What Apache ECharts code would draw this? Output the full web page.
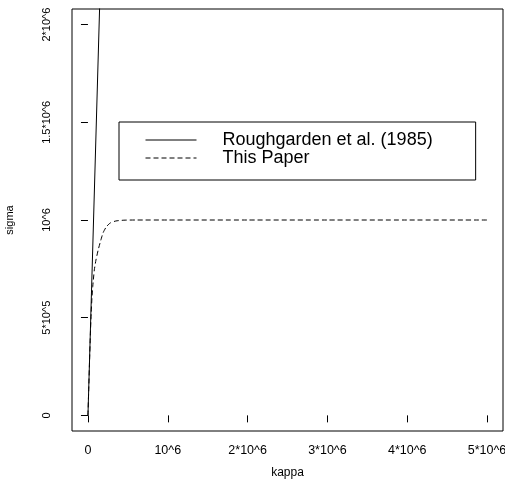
<!DOCTYPE html>
<html>
<head>
<meta charset="utf-8">
<script src="https://cdn.jsdelivr.net/npm/echarts@6/dist/echarts.min.js"></script>
<style>html,body{margin:0;padding:0;background:#fff}#c{width:505px;height:479px}</style>
</head>
<body>
<div id="c"></div>
<script>
// Data
var xTickValues = [0, 1e6, 2e6, 3e6, 4e6, 5e6];
var xTickLabels = ['0', '10^6', '2*10^6', '3*10^6', '4*10^6', '5*10^6'];
var yTickValues = [0, 5e5, 1e6, 1.5e6, 2e6];
var yTickLabels = ['0', '5*10^5', '10^6', '1.5*10^6', '2*10^6'];

// Roughgarden et al. (1985): straight line through origin (clipped at top)
var kappaRough = [0, 2e5];
var sigmaRough = [0, 2.86e6];

// This Paper: saturating curve to 10^6
var kappaPaper = [0, 1e4, 2e4, 3e4, 4e4, 5e4, 6e4, 8e4, 1e5, 1.3e5, 1.6e5, 1.9e5, 2.3e5, 2.8e5, 3.5e5, 4.5e5, 6e5, 1e6, 2e6, 3e6, 4e6, 5e6];
var sigmaPaper = [0, 1.4e5, 2.8e5, 4.1e5, 5.2e5, 6.0e5, 6.6e5, 7.45e5, 7.95e5, 8.5e5, 8.95e5, 9.35e5, 9.65e5, 9.85e5, 9.95e5, 9.99e5, 1e6, 1e6, 1e6, 1e6, 1e6, 1e6];

var roughName = 'Roughgarden et al. (1985)';
var paperName = 'This Paper';

function pairs(xs, ys) { return xs.map(function (x, i) { return [x, ys[i]]; }); }
function lookup(vals, labels) {
  return function (v) {
    for (var i = 0; i < vals.length; i++) if (Math.abs(vals[i] - v) < 1) return labels[i];
    return '';
  };
}

var chart = echarts.init(document.getElementById('c'), null, { renderer: 'canvas' });
var font = 'Liberation Sans, Arial, Helvetica, sans-serif';
chart.setOption({
  animation: false,
  backgroundColor: '#fff',
  grid: {
    left: 72, right: 2, top: 9, bottom: 48,
    outerBoundsMode: 'none', containLabel: false,
    show: true, borderColor: '#000', borderWidth: 1, backgroundColor: 'transparent'
  },
  xAxis: {
    type: 'value', min: -2e5, max: 5.2e6,
    name: 'kappa', nameLocation: 'middle', nameGap: 36,
    nameTextStyle: { fontFamily: font, fontSize: 12, color: '#000' },
    axisLine: { show: false },
    axisTick: { show: true, inside: false, length: 7, customValues: xTickValues, lineStyle: { color: '#000' } },
    axisLabel: { customValues: xTickValues, formatter: lookup(xTickValues, xTickLabels), margin: 13,
      fontFamily: font, fontSize: 12.5, color: '#000' },
    splitLine: { show: false }
  },
  yAxis: {
    type: 'value', min: -8e4, max: 2.08e6,
    name: 'sigma', nameLocation: 'middle', nameGap: 57, nameRotate: 90,
    nameTextStyle: { fontFamily: font, fontSize: 11, color: '#000' },
    axisLine: { show: false },
    axisTick: { show: true, inside: false, length: 7, customValues: yTickValues, lineStyle: { color: '#000' } },
    axisLabel: { customValues: yTickValues, formatter: lookup(yTickValues, yTickLabels), rotate: 90, margin: 25,
      fontFamily: font, fontSize: 11, color: '#000', align: 'center', verticalAlign: 'middle' },
    splitLine: { show: false }
  },
  legend: {
    show: true,
    orient: 'vertical', left: 119, top: 122,
    padding: [9, 43, 13, 26],
    itemWidth: 51, itemHeight: 14, itemGap: 0,
    borderColor: '#000', borderWidth: 1, borderRadius: 0,
    backgroundColor: '#fff',
    itemStyle: { opacity: 0, borderWidth: 0 },
    lineStyle: { width: 1, color: '#000' },
    textStyle: { fontFamily: font, fontSize: 18, color: '#000', padding: [0, 0, 0, 21] },
    data: [roughName, paperName]
  },
  series: [
    {
      name: roughName, type: 'line', data: pairs(kappaRough, sigmaRough),
      symbol: 'none', clip: true,
      lineStyle: { color: '#000', width: 1, type: 'solid' },
      itemStyle: { color: '#000' }
    },
    {
      name: paperName, type: 'line', data: pairs(kappaPaper, sigmaPaper),
      symbol: 'none', clip: true, smooth: 0.2,
      lineStyle: { color: '#000', width: 1, type: [5, 3] },
      itemStyle: { color: '#000' }
    }
  ]
});
</script>
</body>
</html>
